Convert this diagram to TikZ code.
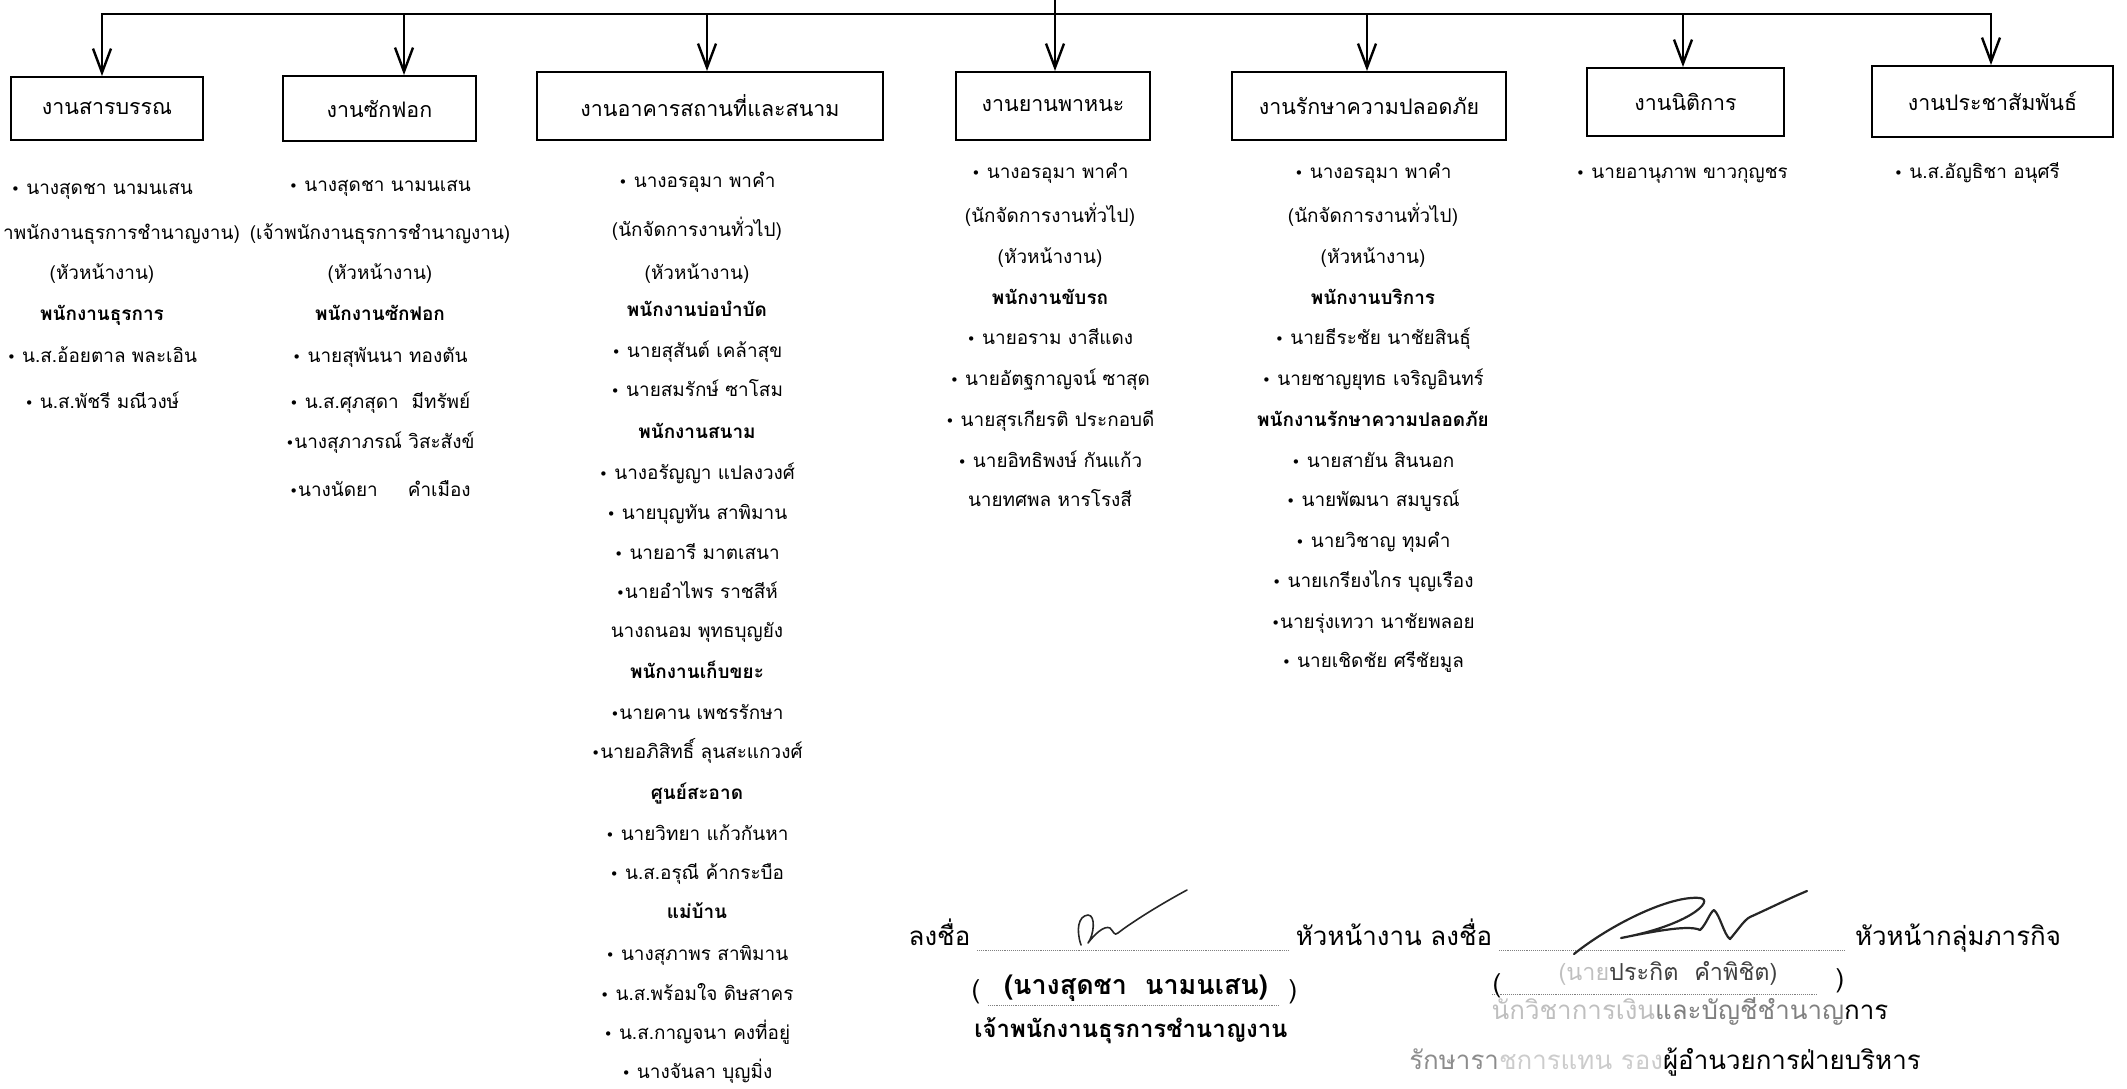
\documentclass[tikz,border=0pt]{standalone}
\usepackage{fontspec}
\setmainfont{Loma}[Script=Thai]
\newfontfamily\dvs{DejaVu Sans}
\usetikzlibrary{arrows.meta}
\newcommand\mybul{{\dvs\fontsize{15}{18}\selectfont •}\ }
\newcommand\mybulx{{\dvs\fontsize{15}{18}\selectfont •}}
\begin{document}
\begin{tikzpicture}[x=1bp,y=-1bp,
  box/.style={draw,line width=2bp,inner sep=0pt,font=\fontsize{21.5}{25}\selectfont},
  txt/.style={inner sep=0pt,font=\fontsize{19}{22}\selectfont,text height=14bp,text depth=5bp},
  link/.style={line width=2.4bp},
  arr/.style={link,-{Straight Barb[length=24bp,width=18bp]}},
  sig/.style={inner sep=0pt,font=\fontsize{26}{30}\selectfont,text height=19bp,text depth=7bp},
  scrib/.style={line width=1.6bp,line cap=round,line join=round,draw=black!85},
  dots/.style={densely dotted,line width=0.9bp,draw=black!50}
]
\useasboundingbox (0,0) rectangle (2127,1088);

% boxes
\node[box,minimum width=192bp,minimum height=63bp] (b1) at (107,108.5) {งานสารบรรณ};
\node[box,minimum width=193bp,minimum height=65bp] (b2) at (379.5,108.5) {งานซักฟอก};
\node[box,minimum width=346bp,minimum height=68bp] (b3) at (710,106) {งานอาคารสถานที่และสนาม};
\node[box,minimum width=194bp,minimum height=68bp] (b4) at (1053,106) {งานยานพาหนะ};
\node[box,minimum width=274bp,minimum height=68bp] (b5) at (1369,106) {งานรักษาความปลอดภัย};
\node[box,minimum width=197bp,minimum height=68bp] (b6) at (1685.5,102) {งานนิติการ};
\node[box,minimum width=241bp,minimum height=71bp] (b7) at (1992.5,101.5) {งานประชาสัมพันธ์};

% connectors
\coordinate (top) at (1055,0);
\coordinate (h1) at (102,14);
\coordinate (h2) at (404,14);
\coordinate (h3) at (707,14);
\coordinate (h5) at (1367,14);
\coordinate (h6) at (1683,14);
\coordinate (h7) at (1991,14);
\draw[link] ([xshift=-1.2bp]h1) -- ([xshift=1.2bp]h7);
\draw[arr] (top) -- (top |- b4.north);
\foreach \k in {1,2,3,5,6,7} \draw[arr] (h\k) -- (h\k |- b\k.north);

% column 1
\foreach \y/\tx [count=\i] in {
  190/{\mybul นางสุดชา นามนเสน},
  275/{(หัวหน้างาน)},
  316/{\bfseries พนักงานธุรการ},
  358/{\mybul น.ส.อ้อยตาล พละเอิน},
  404/{\mybul น.ส.พัชรี มณีวงษ์}}
  \node[txt] (a\i) at (102,\y) {\tx};
\node[txt,anchor=east] (a0) at (240,235) {าพนักงานธุรการชำนาญงาน)};

% column 2
\foreach \y/\tx [count=\i] in {
  187/{\mybul นางสุดชา นามนเสน},
  235/{(เจ้าพนักงานธุรการชำนาญงาน)},
  275/{(หัวหน้างาน)},
  316/{\bfseries พนักงานซักฟอก},
  358/{\mybul นายสุพันนา ทองตัน},
  404/{\mybul น.ส.ศุภสุดา\ \ มีทรัพย์},
  444/{\mybulx นางสุภาภรณ์ วิสะสังข์},
  492/{\mybulx นางนัดยา\hspace{30bp}คำเมือง}}
  \node[txt] (c\i) at (380,\y) {\tx};

% column 3
\foreach \y/\tx [count=\i] in {
  183/{\mybul นางอรอุมา พาคำ},
  232/{(นักจัดการงานทั่วไป)},
  275/{(หัวหน้างาน)},
  312/{\bfseries พนักงานบ่อบำบัด},
  353/{\mybul นายสุสันต์ เคล้าสุข},
  392/{\mybul นายสมรักษ์ ซาโสม},
  434/{\bfseries พนักงานสนาม},
  475/{\mybul นางอรัญญา แปลงวงศ์},
  515/{\mybul นายบุญทัน สาพิมาน},
  555/{\mybul นายอารี มาตเสนา},
  594/{\mybulx นายอำไพร ราชสีห์},
  633/{นางถนอม พุทธบุญยัง},
  674/{\bfseries พนักงานเก็บขยะ},
  715/{\mybulx นายคาน เพชรรักษา},
  754/{\mybulx นายอภิสิทธิ์ ลุนสะแกวงศ์},
  795/{\bfseries ศูนย์สะอาด},
  836/{\mybul นายวิทยา แก้วกันหา},
  875/{\mybul น.ส.อรุณี ค้ากระบือ},
  914/{\bfseries แม่บ้าน},
  956/{\mybul นางสุภาพร สาพิมาน},
  996/{\mybul น.ส.พร้อมใจ ดิษสาคร},
  1035/{\mybul น.ส.กาญจนา คงที่อยู่},
  1074/{\mybul นางจันลา บุญมิ่ง}}
  \node[txt] (d\i) at (697,\y) {\tx};

% column 4
\foreach \y/\tx [count=\i] in {
  174/{\mybul นางอรอุมา พาคำ},
  218/{(นักจัดการงานทั่วไป)},
  259/{(หัวหน้างาน)},
  300/{\bfseries พนักงานขับรถ},
  340/{\mybul นายอราม งาสีแดง},
  381/{\mybul นายอัตฐกาญจน์ ซาสุด},
  422/{\mybul นายสุรเกียรติ ประกอบดี},
  463/{\mybul นายอิทธิพงษ์ กันแก้ว},
  502/{นายทศพล หารโรงสี}}
  \node[txt] (e\i) at (1050,\y) {\tx};

% column 5
\foreach \y/\tx [count=\i] in {
  174/{\mybul นางอรอุมา พาคำ},
  218/{(นักจัดการงานทั่วไป)},
  259/{(หัวหน้างาน)},
  300/{\bfseries พนักงานบริการ},
  340/{\mybul นายธีระชัย นาชัยสินธุ์},
  381/{\mybul นายชาญยุทธ เจริญอินทร์},
  422/{\bfseries พนักงานรักษาความปลอดภัย},
  463/{\mybul นายสายัน สินนอก},
  502/{\mybul นายพัฒนา สมบูรณ์},
  543/{\mybul นายวิชาญ ทุมคำ},
  583/{\mybul นายเกรียงไกร บุญเรือง},
  624/{\mybulx นายรุ่งเทวา นาชัยพลอย},
  663/{\mybul นายเชิดชัย ศรีชัยมูล}}
  \node[txt] (f\i) at (1373,\y) {\tx};

% columns 6, 7
\node[txt] (g1) at (1682,174) {\mybul นายอานุภาพ ขาวกุญชร};
\node[txt] (k1) at (1977,174) {\mybul น.ส.อัญธิชา อนุศรี};

% signatures
\node[sig] (s1) at (939.5,939) {ลงชื่อ};
\node[sig] (s2) at (1394,939) {หัวหน้างาน ลงชื่อ};
\node[sig] (s3) at (1958,939) {หัวหน้ากลุ่มภารกิจ};
\draw[dots] (977,950) -- (1289,950);
\draw[dots] (1499,950) -- (1845,950);

\node[sig] (p1) at (976,992) {(};
\node[sig] (p2) at (1293,992) {)};
\node[sig,font=\fontsize{27}{30}\selectfont\bfseries] (n1) at (1136,988) {(นางสุดชา\ \ นามนเสน)};
\draw[dots] (988,1005) -- (1279,1005);
\node[sig,font=\fontsize{24}{30}\selectfont\bfseries] (n2) at (1131,1031) {เจ้าพนักงานธุรการชำนาญงาน};

\node[sig] (p3) at (1497,986) {(};
\node[sig] (p4) at (1840,981) {)};
\node[sig,text=black!75,font=\fontsize{23.5}{28}\selectfont] (n3) at (1668,974) {{\color{black!25}(นาย}ประกิต\ \ คำพิชิต)};
\draw[dots] (1492,994) -- (1818,994);
\node[sig] (n4) at (1690,1013) {{\color{black!25}นักวิชาการเงิน}{\color{black!50}และบัญชีชำนาญ}การ};
\node[sig] (n5) at (1665,1063) {{\color{black!45}รักษารา}{\color{black!20}ชการแทน รอง}ผู้อำนวยการฝ่ายบริหาร};

% handwritten signatures
\draw[scrib] (1081,945) .. controls (1076,930) and (1078,916) .. (1088,915)
  .. controls (1096,915) and (1094,935) .. (1088,943)
  .. controls (1094,935) and (1104,925) .. (1110,928)
  .. controls (1114,932) and (1114,936) .. (1118,933)
  .. controls (1124,928) and (1150,910) .. (1187,890);
\draw[scrib,line width=2.2bp] (1574,954) .. controls (1610,925) and (1670,895) .. (1700,898)
  .. controls (1715,900) and (1690,925) .. (1621,938)
  .. controls (1660,930) and (1690,925) .. (1700,930)
  .. controls (1706,925) and (1710,912) .. (1714,910)
  .. controls (1720,915) and (1724,935) .. (1730,939)
  .. controls (1738,930) and (1744,920) .. (1750,917)
  .. controls (1770,908) and (1790,898) .. (1807,891);
\end{tikzpicture}
\end{document}
